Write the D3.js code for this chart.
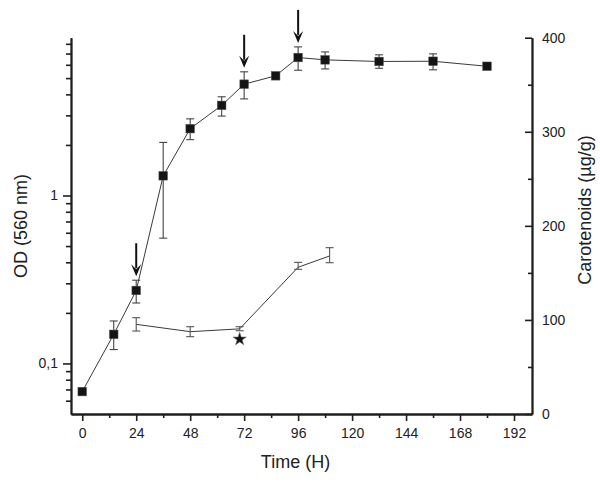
<!DOCTYPE html>
<html>
<head>
<meta charset="utf-8">
<script src="https://cdn.jsdelivr.net/npm/d3@7"></script>
<style>
  html, body { margin: 0; padding: 0; background: #fff; }
  svg { display: block; font-family: "Liberation Sans", Arial, sans-serif; }
</style>
</head>
<body>
<svg id="chart" width="600" height="482"></svg>
<script>
// ---- data ----
const odTime  = [0, 14, 24, 36, 48, 62, 72, 86, 96, 108, 132, 156, 180];
const odMean  = [0.068, 0.149, 0.272, 1.31, 2.50, 3.44, 4.60, 5.16, 6.63, 6.42, 6.28, 6.30, 5.88];
const odUpper = [0.068, 0.179, 0.313, 2.07, 2.86, 3.87, 5.45, 5.30, 7.67, 7.16, 6.88, 6.97, 6.10];
const odLower = [0.068, 0.121, 0.229, 0.557, 2.15, 2.97, 3.76, 5.00, 5.57, 5.67, 5.72, 5.60, 5.65];

const carTime  = [24, 48, 70, 96, 110];
const carMean  = [95.3, 87.5, 90.5, 156, 168];
const carUpper = [102.4, 92.8, 92.8, 161.2, 176.8];
const carLower = [88.2, 82.2, 88.5, 153.8, 160.8];

const starTime = [70];
const starValue = [79.5];

const arrowTimes = [24, 72, 96];

const xTicks = [0, 24, 48, 72, 96, 120, 144, 168, 192];
const xMinorTicks = [12, 36, 60, 84, 108, 132, 156, 180];
const odMajorTicks = [0.1, 1];
const odMinorTicks = [0.06, 0.07, 0.08, 0.09, 0.2, 0.3, 0.4, 0.5, 0.6, 0.7, 0.8, 0.9, 2, 3, 4, 5, 6, 7, 8];
const carTicks = [0, 100, 200, 300, 400];
const carMinorTicks = [50, 150, 250, 350];

// ---- layout ----
const svg = d3.select("#chart");
const pLeft = 71, pRight = 532, pTop = 37.7, pBottom = 414;

const x = d3.scaleLinear().domain([-5, 200]).range([pLeft, pRight]);
const yOD = d3.scaleLog().domain([0.05, 8.7]).range([pBottom, pTop]);
const yCar = d3.scaleLinear().domain([0, 400]).range([pBottom, pTop]);

const locale = d3.formatLocale({decimal: ",", thousands: ".", grouping: [3], currency: ["", ""]});
const fmt = locale.format("~g");

const axisColor = "#1e1e1e";
const textColor = "#222";

function styleAxis(g) {
  g.select(".domain").attr("stroke", axisColor).attr("stroke-width", 1.8);
  g.selectAll(".tick line").attr("stroke", axisColor).attr("stroke-width", 1.6);
  g.selectAll(".tick text").attr("fill", textColor).style("font-size", "14px")
    .style("font-family", '"Liberation Sans", Arial, sans-serif');
}

// bottom axis
svg.append("g").attr("transform", `translate(0,${pBottom})`)
  .call(d3.axisBottom(x).tickValues(xMinorTicks).tickSize(4).tickSizeOuter(0).tickFormat(""))
  .call(styleAxis);
svg.append("g").attr("transform", `translate(0,${pBottom})`)
  .call(d3.axisBottom(x).tickValues(xTicks).tickSize(7).tickPadding(7).tickSizeOuter(0))
  .call(styleAxis);

// left axis (log)
svg.append("g").attr("transform", `translate(${pLeft},0)`)
  .call(d3.axisLeft(yOD).tickValues(odMinorTicks).tickSize(5).tickSizeOuter(0).tickFormat(""))
  .call(styleAxis);
svg.append("g").attr("transform", `translate(${pLeft},0)`)
  .call(d3.axisLeft(yOD).tickValues(odMajorTicks).tickSize(8).tickPadding(5).tickSizeOuter(0).tickFormat(fmt))
  .call(styleAxis);

// right axis (ticks point inward, labels outside)
svg.append("g").attr("transform", `translate(${pRight},0)`)
  .call(d3.axisRight(yCar).tickValues(carMinorTicks).tickSizeInner(-4).tickSizeOuter(0).tickFormat(""))
  .call(styleAxis);
svg.append("g").attr("transform", `translate(${pRight},0)`)
  .call(d3.axisRight(yCar).tickValues(carTicks).tickSizeInner(-7).tickPadding(10).tickSizeOuter(0))
  .call(styleAxis);

// axis titles
svg.append("text").attr("x", (pLeft + pRight) / 2 - 6).attr("y", 468)
  .attr("text-anchor", "middle").attr("fill", textColor).style("font-size", "18px").text("Time (H)");
svg.append("text").attr("transform", `translate(27,226) rotate(-90)`)
  .attr("text-anchor", "middle").attr("fill", textColor).style("font-size", "18px").text("OD (560 nm)");
svg.append("text").attr("transform", `translate(591,210) rotate(-90)`)
  .attr("text-anchor", "middle").attr("fill", textColor).style("font-size", "18px").text("Carotenoids (µg/g)");

// ---- carotenoid series ----
const car = carTime.map((t, i) => ({t, m: carMean[i], u: carUpper[i], l: carLower[i]}));
svg.append("path").datum(car)
  .attr("fill", "none").attr("stroke", "#3a3a3a").attr("stroke-width", 1)
  .attr("d", d3.line().x(d => x(d.t)).y(d => yCar(d.m)));
const carEb = svg.append("g").attr("stroke", "#555").attr("stroke-width", 1.1);
car.forEach(d => {
  const cx = x(d.t);
  carEb.append("line").attr("x1", cx).attr("x2", cx).attr("y1", yCar(d.u)).attr("y2", yCar(d.l));
  carEb.append("line").attr("x1", cx - 4).attr("x2", cx + 4).attr("y1", yCar(d.u)).attr("y2", yCar(d.u));
  carEb.append("line").attr("x1", cx - 4).attr("x2", cx + 4).attr("y1", yCar(d.l)).attr("y2", yCar(d.l));
});

// star
svg.selectAll(".star").data(starTime.map((t, i) => ({t, v: starValue[i]})))
  .enter().append("path")
  .attr("transform", d => `translate(${x(d.t)},${yCar(d.v)})`)
  .attr("d", d3.symbol(d3.symbolStar, 55)())
  .attr("fill", "#111").attr("stroke", "#777").attr("stroke-width", 0.6);

// ---- OD series ----
const od = odTime.map((t, i) => ({t, m: odMean[i], u: odUpper[i], l: odLower[i]}));
svg.append("path").datum(od)
  .attr("fill", "none").attr("stroke", "#3a3a3a").attr("stroke-width", 1)
  .attr("d", d3.line().x(d => x(d.t)).y(d => yOD(d.m)));
const odEb = svg.append("g").attr("stroke", "#444").attr("stroke-width", 1.1);
od.forEach(d => {
  if (d.u === d.l) return;
  const cx = x(d.t);
  odEb.append("line").attr("x1", cx).attr("x2", cx).attr("y1", yOD(d.u)).attr("y2", yOD(d.l));
  odEb.append("line").attr("x1", cx - 4).attr("x2", cx + 4).attr("y1", yOD(d.u)).attr("y2", yOD(d.u));
  odEb.append("line").attr("x1", cx - 4).attr("x2", cx + 4).attr("y1", yOD(d.l)).attr("y2", yOD(d.l));
});
svg.selectAll(".sq").data(od).enter().append("rect")
  .attr("x", d => x(d.t) - 4.3).attr("y", d => yOD(d.m) - 4.3)
  .attr("width", 8.6).attr("height", 8.6)
  .attr("fill", "#141414").attr("stroke", "#555").attr("stroke-width", 0.5);

// ---- arrows ----
arrowTimes.forEach(t => {
  const i = odTime.indexOf(t);
  const cx = x(t);
  const tip = yOD(odUpper[i]) - 4;
  const topY = tip - 33;
  svg.append("line").attr("x1", cx).attr("x2", cx).attr("y1", topY).attr("y2", tip - 8)
    .attr("stroke", "#111").attr("stroke-width", 2);
  svg.append("path")
    .attr("d", `M${cx - 5},${tip - 12} L${cx},${tip - 7} L${cx + 5},${tip - 12} L${cx},${tip} Z`)
    .attr("fill", "#111");
});
</script>
</body>
</html>
